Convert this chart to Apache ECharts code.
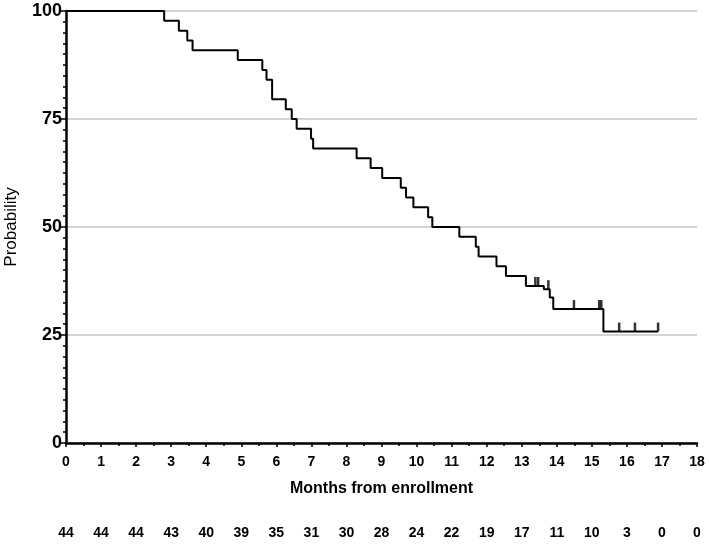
<!DOCTYPE html>
<html>
<head>
<meta charset="utf-8">
<script src="https://cdn.jsdelivr.net/npm/echarts@6/dist/echarts.min.js"></script>
<style>
html,body{margin:0;padding:0;background:#fff;}
#chart{width:709px;height:557px;}
</style>
</head>
<body>
<div id="chart"></div>
<script>
// Kaplan-Meier step points (months, probability %)
const stepMonths = [0, 2.80, 3.22, 3.46, 3.61, 4.90, 5.60, 5.72, 5.88, 6.27, 6.44, 6.58, 6.99, 7.05, 8.29, 8.69, 9.02, 9.55, 9.70, 9.91, 10.33, 10.45, 11.22, 11.69, 11.77, 12.28, 12.55, 13.12, 13.63, 13.80, 13.90, 15.33, 16.89];
const stepProb   = [100, 97.73, 95.45, 93.18, 90.91, 88.64, 86.36, 84.09, 79.55, 77.27, 75.00, 72.73, 70.45, 68.18, 65.91, 63.64, 61.36, 59.09, 56.82, 54.55, 52.27, 50.00, 47.73, 45.45, 43.18, 40.91, 38.64, 36.36, 35.6, 33.7, 31.0, 25.8, 25.8];
// Censored observations
const censorMonths = [13.39, 13.47, 13.76, 14.49, 15.21, 15.27, 15.78, 16.23, 16.89];
const censorProb   = [36.36, 36.36, 35.6, 31.0, 31.0, 31.0, 25.8, 25.8, 25.8];
// Number at risk at each month 0..18
const atRisk = [44, 44, 44, 43, 40, 39, 35, 31, 30, 28, 24, 22, 19, 17, 11, 10, 3, 0, 0];
const xTicks = [0, 18, 1];
const yTicks = [0, 100, 25];

const chart = echarts.init(document.getElementById('chart'), null, {renderer: 'canvas'});
const FONT = 'Liberation Sans, Arial, sans-serif';

chart.setOption({
  animation: false,
  backgroundColor: '#ffffff',
  grid: {left: 66, right: 12, top: 11, bottom: 114, containLabel: false, outerBoundsMode: 'none'},
  xAxis: [{
    type: 'value', min: xTicks[0], max: xTicks[1], interval: xTicks[2],
    axisLine: {show: true, onZero: false, lineStyle: {color: '#000', width: 2.5}},
    axisTick: {show: true, length: 4, lineStyle: {color: '#000', width: 1.5}},
    minorTick: {show: true, splitNumber: 2, length: 3, lineStyle: {color: '#000', width: 1.5}},
    splitLine: {show: false},
    axisLabel: {color: '#000', fontFamily: FONT, fontWeight: 'bold', fontSize: 14, margin: 12},
    name: 'Months from enrollment', nameLocation: 'middle', nameGap: 38,
    nameTextStyle: {color: '#000', fontFamily: FONT, fontWeight: 'bold', fontSize: 16}
  }, {
    type: 'value', min: xTicks[0], max: xTicks[1], interval: xTicks[2],
    position: 'bottom', offset: 75,
    axisLine: {show: false}, axisTick: {show: false}, splitLine: {show: false},
    axisLabel: {color: '#000', fontFamily: FONT, fontWeight: 'bold', fontSize: 14,
      formatter: v => String(atRisk[Math.round(v)])}
  }],
  yAxis: {
    type: 'value', min: yTicks[0], max: yTicks[1], interval: yTicks[2],
    axisLine: {show: true, lineStyle: {color: '#000', width: 2.5}},
    axisTick: {show: true, length: 5, lineStyle: {color: '#000', width: 1.5}},
    minorTick: {show: true, splitNumber: 10, length: 3, lineStyle: {color: '#000', width: 1.5}},
    splitLine: {show: true, lineStyle: {color: '#c4c4c4', width: 1.5}},
    axisLabel: {color: '#000', fontFamily: FONT, fontWeight: 'bold', fontSize: 18, margin: 4},
    name: 'Probability', nameLocation: 'middle', nameGap: 46, nameRotate: 90,
    nameTextStyle: {color: '#000', fontFamily: FONT, fontSize: 17}
  },
  series: [{
    type: 'line', step: 'end', symbol: 'none', silent: true,
    data: stepMonths.map((m, i) => [m, stepProb[i]]),
    lineStyle: {color: '#000', width: 2}
  }, {
    type: 'scatter', symbol: 'rect', symbolSize: [2.5, 9], symbolOffset: [0, '-50%'], silent: true,
    data: censorMonths.map((m, i) => [m, censorProb[i]]),
    itemStyle: {color: '#000'}
  }]
});
</script>
</body>
</html>
